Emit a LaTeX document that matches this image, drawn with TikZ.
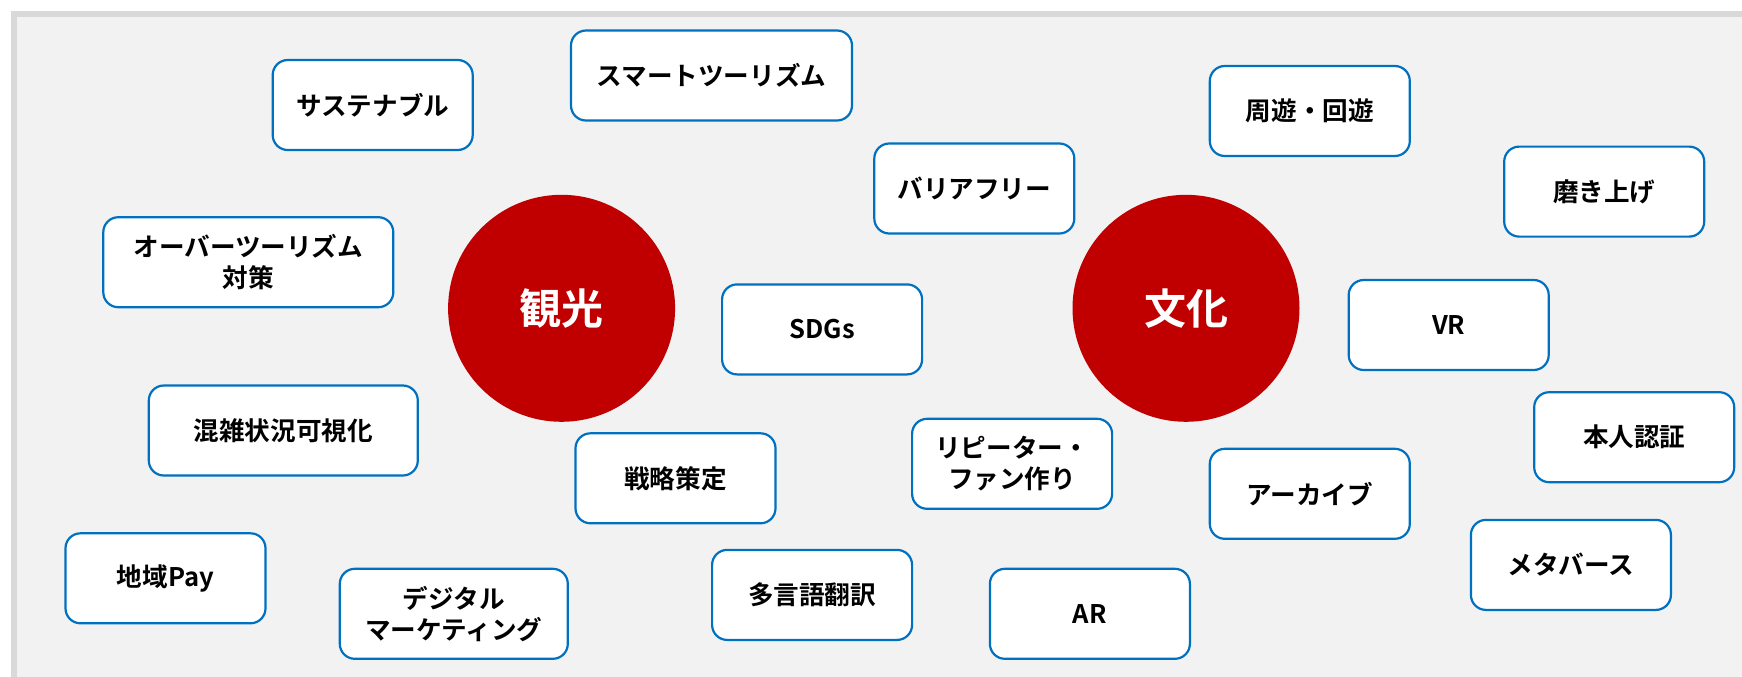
\documentclass[tikz,border=0pt]{standalone}
\usepackage{fontspec}
\setmainfont{Noto Sans CJK JP}[BoldFont={Noto Sans CJK JP Bold}]
\definecolor{boxblue}{HTML}{0070C0}
\definecolor{hubred}{HTML}{C00000}
\definecolor{bggray}{HTML}{F2F2F2}
\definecolor{framegray}{HTML}{D9D9D9}
\begin{document}
\begin{tikzpicture}[x=0.5pt,y=-0.5pt,
  item/.style={draw=boxblue, line width=1.1pt, fill=white, rounded corners=7.5pt,
    minimum width=100pt, minimum height=45pt, inner sep=0pt, align=center,
    font=\bfseries\fontsize{12.8}{15.5}\selectfont},
  hub/.style={circle, fill=hubred, minimum size=113.5pt, inner sep=0pt, text=white,
    font=\bfseries\fontsize{21}{25}\selectfont}]
\useasboundingbox (0,0) rectangle (1742,676);
\clip (0,0) rectangle (1742,676);
\fill[white] (0,0) rectangle (1742,676);
\fill[framegray] (11,11) rectangle (1800,720);
\fill[bggray] (16.5,16.5) rectangle (1800,720);

\node[hub] (kanko) at (561.6,308.3) {観光};
\node[hub] (bunka) at (1186,308.3) {文化};

\node[item] (sus) at (372.7,105) {サステナブル};
\node[item, minimum width=140.5pt] (smart) at (711.5,75.5) {スマートツーリズム};
\node[item, minimum width=145pt] (over) at (248.3,262.2) {オーバーツーリズム\\対策};
\node[item, minimum width=134.5pt] (konzatsu) at (283.3,430.5) {混雑状況可視化};
\node[item] (pay) at (165.5,578.3) {地域Pay};
\node[item, minimum width=114pt] (digital) at (453.8,613.8) {デジタル\\マーケティング};
\node[item] (senryaku) at (675.5,478.3) {戦略策定};
\node[item] (tagengo) at (812.1,594.9) {多言語翻訳};
\node[item] (sdgs) at (822.1,329.4) {SDGs};
\node[item] (barrier) at (974.3,188.5) {バリアフリー};
\node[item] (repeater) at (1012.1,463.8) {リピーター・\\ファン作り};
\node[item] (ar) at (1089.9,613.8) {AR};
\node[item] (shuyu) at (1309.8,111) {周遊・回遊};
\node[item] (migaki) at (1604.2,191.6) {磨き上げ};
\node[item] (vr) at (1448.7,325) {VR};
\node[item] (honnin) at (1634.2,437.2) {本人認証};
\node[item] (archive) at (1309.8,493.8) {アーカイブ};
\node[item] (meta) at (1570.9,564.9) {メタバース};
\end{tikzpicture}
\end{document}
